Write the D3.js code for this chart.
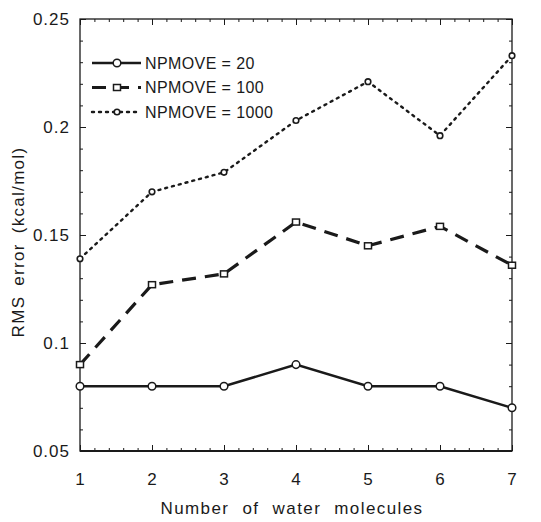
<!DOCTYPE html>
<html>
<head>
<meta charset="utf-8">
<script src="https://cdn.jsdelivr.net/npm/d3@7"></script>
<style>
  body { margin: 0; background: #fff; }
  text { font-family: "Liberation Sans", Arial, sans-serif; fill: #1a1a1a; }
</style>
</head>
<body>
<div id="chart"></div>
<script>
// data
const molecules = [1, 2, 3, 4, 5, 6, 7];
const npmove20 = [0.08, 0.08, 0.08, 0.09, 0.08, 0.08, 0.07];
const npmove100 = [0.09, 0.127, 0.132, 0.156, 0.145, 0.154, 0.136];
const npmove1000 = [0.139, 0.170, 0.179, 0.203, 0.221, 0.196, 0.233];
const seriesNames = ['NPMOVE = 20', 'NPMOVE = 100', 'NPMOVE = 1000'];
const yTicks = [0.05, 0.1, 0.15, 0.2, 0.25];

const series = [
  { name: seriesNames[0], values: npmove20, dash: null, width: 2.5, marker: 'circle' },
  { name: seriesNames[1], values: npmove100, dash: '14,9', width: 3.2, marker: 'square' },
  { name: seriesNames[2], values: npmove1000, dash: '2,5', width: 2.4, marker: 'dot' }
];

const W = 541, H = 522;
const margin = { top: 19, right: 29, bottom: 71, left: 80 };
const width = W - margin.left - margin.right;
const height = H - margin.top - margin.bottom;
const ink = '#1a1a1a';

const svg = d3.select('#chart').append('svg')
  .attr('width', W)
  .attr('height', H);

const g = svg.append('g')
  .attr('transform', `translate(${margin.left},${margin.top})`);

const x = d3.scaleLinear().domain([1, 7]).range([0, width]);
const y = d3.scaleLinear().domain([0.05, 0.25]).range([height, 0]);

const xMinor = d3.range(1, 7.001, 0.2).map(v => +v.toFixed(2));
const yMinor = d3.range(0.05, 0.2501, 0.01).map(v => +v.toFixed(3));

function styleAxis(sel) {
  sel.select('.domain').remove();
  sel.selectAll('.tick line').attr('stroke', ink).attr('stroke-width', 1);
  sel.selectAll('text')
    .style('font-size', '17px')
    .style('letter-spacing', '1px')
    .attr('fill', ink);
}

// minor ticks on all four sides
g.append('g').attr('transform', `translate(0,${height})`)
  .call(d3.axisBottom(x).tickValues(xMinor).tickSize(-3).tickFormat(''))
  .call(styleAxis);
g.append('g')
  .call(d3.axisTop(x).tickValues(xMinor).tickSize(-3).tickFormat(''))
  .call(styleAxis);
g.append('g')
  .call(d3.axisLeft(y).tickValues(yMinor).tickSize(-3).tickFormat(''))
  .call(styleAxis);
g.append('g').attr('transform', `translate(${width},0)`)
  .call(d3.axisRight(y).tickValues(yMinor).tickSize(-3).tickFormat(''))
  .call(styleAxis);

// major ticks with labels
g.append('g').attr('transform', `translate(0,${height})`)
  .call(d3.axisBottom(x).ticks(7).tickSize(-6).tickPadding(22).tickFormat(d3.format('d')))
  .call(styleAxis);
g.append('g')
  .call(d3.axisTop(x).ticks(7).tickSize(-6).tickFormat(''))
  .call(styleAxis);
g.append('g')
  .call(d3.axisLeft(y).tickValues(yTicks).tickSize(-6).tickPadding(10).tickFormat(d3.format('')))
  .call(styleAxis);
g.append('g').attr('transform', `translate(${width},0)`)
  .call(d3.axisRight(y).tickValues(yTicks).tickSize(-6).tickFormat(''))
  .call(styleAxis);

// frame
g.append('rect')
  .attr('width', width).attr('height', height)
  .attr('fill', 'none').attr('stroke', ink).attr('stroke-width', 1.3);
g.append('line')
  .attr('x1', 0).attr('x2', width).attr('y1', height).attr('y2', height)
  .attr('stroke', ink).attr('stroke-width', 2);

// series lines
const line = d3.line()
  .x((d, i) => x(molecules[i]))
  .y(d => y(d));

function drawMarker(sel, type, cx, cy) {
  if (type === 'circle') {
    sel.append('circle').attr('cx', cx).attr('cy', cy).attr('r', 3.8)
      .attr('fill', '#fff').attr('stroke', ink).attr('stroke-width', 1.5);
  } else if (type === 'square') {
    sel.append('rect').attr('x', cx - 3.5).attr('y', cy - 3).attr('width', 7).attr('height', 6)
      .attr('fill', '#fff').attr('stroke', ink).attr('stroke-width', 1.5);
  } else {
    sel.append('circle').attr('cx', cx).attr('cy', cy).attr('r', 2.8)
      .attr('fill', '#fff').attr('stroke', ink).attr('stroke-width', 1.6);
  }
}

series.forEach(s => {
  g.append('path')
    .datum(s.values)
    .attr('d', line)
    .attr('fill', 'none')
    .attr('stroke', ink)
    .attr('stroke-width', s.width)
    .attr('stroke-linecap', s.marker === 'dot' ? 'round' : 'butt')
    .attr('stroke-dasharray', s.dash);
  const mg = g.append('g');
  s.values.forEach((v, i) => drawMarker(mg, s.marker, x(molecules[i]), y(v)));
});

// legend
const legend = g.append('g').attr('transform', 'translate(12,44)');
series.forEach((s, i) => {
  const row = legend.append('g').attr('transform', `translate(0,${i * 24.5})`);
  row.append('line')
    .attr('x1', 0).attr('x2', 49).attr('y1', 0).attr('y2', 0)
    .attr('stroke', ink)
    .attr('stroke-width', s.width)
    .attr('stroke-linecap', s.marker === 'dot' ? 'round' : 'butt')
    .attr('stroke-dasharray', s.dash);
  drawMarker(row, s.marker, 25, 0);
  row.append('text')
    .attr('x', 53).attr('y', 0).attr('dy', '0.35em')
    .style('font-size', '16px')
    .style('letter-spacing', '0.4px')
    .text(s.name);
});

// axis titles
svg.append('text')
  .attr('x', margin.left + width / 2 - 4)
  .attr('y', 514)
  .attr('text-anchor', 'middle')
  .style('font-size', '17px')
  .style('letter-spacing', '1.4px')
  .style('word-spacing', '7px')
  .text('Number of water molecules');

svg.append('text')
  .attr('transform', `translate(24,${margin.top + height / 2 + 7}) rotate(-90)`)
  .attr('text-anchor', 'middle')
  .style('font-size', '17px')
  .style('letter-spacing', '1.3px')
  .style('word-spacing', '4px')
  .text('RMS error (kcal/mol)');
</script>
</body>
</html>
